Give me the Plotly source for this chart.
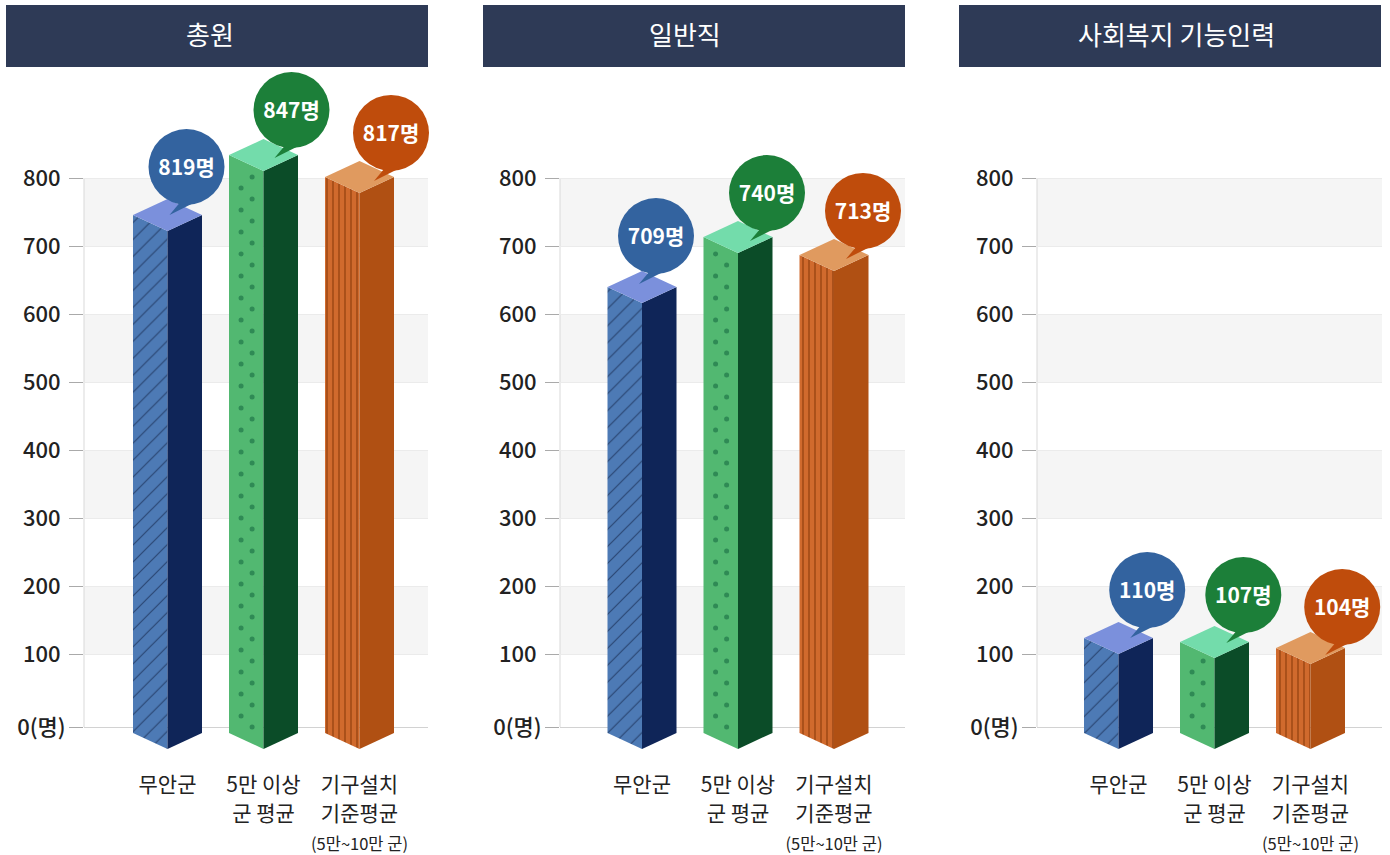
import plotly.graph_objects as go

# ---------- data ----------
panel_titles = ["총원", "일반직", "사회복지 기능인력"]
categories = ["무안군", "5만 이상<br>군 평균", "기구설치<br>기준평균"]
category_note = "(5만~10만 군)"
y_tick_labels = ["0(명)", "100\u00a0", "200\u00a0", "300\u00a0", "400\u00a0", "500\u00a0", "600\u00a0", "700\u00a0", "800\u00a0"]
# the source chart puts its "0" line a little below the regular step
y_ticks = [-7.4, 100, 200, 300, 400, 500, 600, 700, 800]

# values printed in the bubbles
total_labels = [819, 847, 817]
general_labels = [709, 740, 713]
welfare_labels = [110, 107, 104]
# height each column is drawn to on the axis
total_heights = [745.6, 833.8, 801.5]
general_heights = [639.7, 713.2, 686.8]
welfare_heights = [123.5, 117.6, 108.8]

# ---------- styles / layout ----------
W, H = 1390, 855
FONT = "Noto Sans CJK KR"
BASE_PX = 727
TOP_PX = 178
PX_PER_Y = 0.68
ZERO_PX = TOP_PX + 800 * PX_PER_Y
PX_PER_X = 96
HALF_W = 34.5 / PX_PER_X
SLANT = 16 / PX_PER_Y
BOTTOM = -16

panel_px = [(84, 428, 167.5), (560, 905, 642), (1037, 1382, 1118.5)]
header_px = [(6, 428), (483, 905), (959, 1381)]
title_center_px = [210, 685, 1176.5]
title_y_px = 34
bubble_dx = [[19, 28, 31.5], [14, 29, 29], [28.7, 28.8, 31.7]]
bubble_dy = [[48, 45, 44], [51, 44, 44], [48, 47, 41]]

left_bg = ["#4d7ab5", "#52b871", "#d06a2d"]
left_fg = ["#2a4673", "#52b871", "#96430f"]
left_shape = ["/", "", "|"]
left_size = [12, 8, 6]
left_solid = [0.1, 0.1, 0.22]
right_col = ["#0f2558", "#0b4c28", "#b05013"]
top_col = ["#7b90dc", "#73dcab", "#e09a5f"]
bubble_col = ["#33639f", "#1c7f39", "#bf4c0c"]
DOT = "#2f8a55"

fig = go.Figure()


def poly(xa, ya, xs, ys, color, pattern=None):
    fig.add_trace(go.Scatter(
        x=xs, y=ys, xaxis=xa, yaxis=ya, mode="lines", line=dict(width=0),
        fill="toself", fillcolor=color, fillpattern=pattern,
        hoverinfo="skip", showlegend=False))


heights = [total_heights, general_heights, welfare_heights]
labels = [total_labels, general_labels, welfare_labels]

for p, (x0, x1, origin) in enumerate(panel_px):
    xa, ya = f"x{p + 1}", f"y{p + 1}"
    for i, h in enumerate(heights[p]):
        c, l, r = i, i - HALF_W, i + HALF_W
        pattern = None
        if left_shape[i]:
            pattern = dict(shape=left_shape[i], bgcolor=left_bg[i], fgcolor=left_fg[i],
                           size=left_size[i], solidity=left_solid[i], fgopacity=1)
        poly(xa, ya, [l, c, c, l, l], [h, h - SLANT, BOTTOM - SLANT, BOTTOM, h], left_bg[i], pattern)
        poly(xa, ya, [c, r, r, c, c], [h - SLANT, h, BOTTOM, BOTTOM - SLANT, h - SLANT], right_col[i])
        poly(xa, ya, [l, c, r, c, l], [h, h + SLANT, h, h - SLANT, h], top_col[i])
        if i == 1:  # staggered dot texture on the green face
            dx, dy = [], []
            row, v = 0, BOTTOM - SLANT + 11 / PX_PER_Y
            while v < h - SLANT:
                u = 0.35 if row % 2 == 0 else 0.67
                if BOTTOM - u * SLANT + 4 < v < h - u * SLANT - 4:
                    dx.append(l + u * HALF_W)
                    dy.append(v)
                v += 11 / PX_PER_Y
                row += 1
            fig.add_trace(go.Scatter(x=dx, y=dy, xaxis=xa, yaxis=ya, mode="markers",
                                     marker=dict(size=5, color=DOT), hoverinfo="skip",
                                     showlegend=False))
    for i, h in enumerate(heights[p]):
        cx = i + bubble_dx[p][i] / PX_PER_X
        cy = h + bubble_dy[p][i] / PX_PER_Y
        tail_x = [cx - 17 / PX_PER_X, cx - 7 / PX_PER_X, cx + 11 / PX_PER_X]
        tail_y = [cy - 48 / PX_PER_Y, cy - 36 / PX_PER_Y, cy - 34 / PX_PER_Y]
        poly(xa, ya, tail_x + tail_x[:1], tail_y + tail_y[:1], bubble_col[i])
        fig.add_trace(go.Scatter(
            x=[cx], y=[cy], xaxis=xa, yaxis=ya, mode="markers",
            marker=dict(size=76, color=bubble_col[i], line=dict(width=0)),
            hoverinfo="skip", showlegend=False, cliponaxis=False))
        fig.add_trace(go.Scatter(
            x=[cx], y=[cy - 3 / PX_PER_Y], xaxis=xa, yaxis=ya, mode="text",
            text=[f"{labels[p][i]}명"], textposition="middle center",
            textfont=dict(family=FONT, size=21, color="white", weight=700),
            hoverinfo="skip", showlegend=False, cliponaxis=False))

layout = dict(
    width=W, height=H, margin=dict(l=0, r=0, t=0, b=0, pad=0, autoexpand=False),
    paper_bgcolor="white", plot_bgcolor="rgba(0,0,0,0)", showlegend=False,
    font=dict(family=FONT, color="#222222"),
)
shapes, annotations = [], []

tick_text = []
for k, cat in enumerate(categories):
    parts = [f"<span style='font-size:21px'>{s}</span>" for s in cat.split("<br>")]
    if k == 2:
        parts.append(f"<span style='font-size:16.5px'>{category_note}</span>")
    tick_text.append("<br>".join(parts))

y_low = (ZERO_PX - H) / PX_PER_Y
y_high = ZERO_PX / PX_PER_Y

for p, (x0, x1, origin) in enumerate(panel_px):
    suffix = "" if p == 0 else str(p + 1)
    layout["xaxis" + suffix] = dict(
        domain=[x0 / W, x1 / W],
        range=[(x0 - origin) / PX_PER_X, (x1 - origin) / PX_PER_X],
        anchor="free", position=1 - BASE_PX / H,
        tickvals=[0, 1, 2], ticktext=tick_text, ticks="",
        showgrid=False, zeroline=False, showline=True, linecolor="#d2d2d2", linewidth=1,
        tickfont=dict(family=FONT, size=22, color="#222222"),
        ticklabelstandoff=38, fixedrange=True, automargin=False, layer="below traces")
    layout["yaxis" + suffix] = dict(
        domain=[0, 1], range=[y_low, y_high], anchor="x" + suffix,
        tickmode="array", tickvals=y_ticks, ticktext=y_tick_labels, ticks="outside", ticklen=14,
        tickcolor="#aaaaaa", tickwidth=1, ticklabelstandoff=-1,
        showgrid=True, gridcolor="#ebebeb", gridwidth=1, zeroline=False,
        showline=False, layer="below traces",
        tickfont=dict(family=FONT, size=22, color="#222222", weight=500),
        fixedrange=True, automargin=False)
    xr = "x" + suffix
    yr = "y" + suffix
    for lo in (100, 300, 500, 700):
        shapes.append(dict(type="rect", xref=f"{xr} domain", yref=yr, x0=0, x1=1, y0=lo, y1=lo + 100,
                           fillcolor="#f5f5f5", line=dict(width=0), layer="below"))
    shapes.append(dict(type="line", xref=f"{xr} domain", yref=yr, x0=0, x1=0, y0=y_ticks[0], y1=y_ticks[-1],
                       line=dict(color="#d9d9d9", width=1), layer="below"))
    hx0, hx1 = header_px[p]
    shapes.append(dict(type="rect", xref="paper", yref="paper", x0=hx0 / W, x1=hx1 / W,
                       y0=1 - 67 / H, y1=1 - 5 / H, fillcolor="#2e3a56", line=dict(width=0)))
    annotations.append(dict(xref="paper", yref="paper", x=title_center_px[p] / W, y=1 - title_y_px / H,
                            text=panel_titles[p], showarrow=False, xanchor="center", yanchor="middle",
                            font=dict(family=FONT, size=26, color="white")))
layout["shapes"] = shapes
layout["annotations"] = annotations
fig.update_layout(**layout)
fig.write_html("out.html", config={"displayModeBar": False},
               post_script="document.body.style.margin='0';document.body.style.overflow='hidden';")
